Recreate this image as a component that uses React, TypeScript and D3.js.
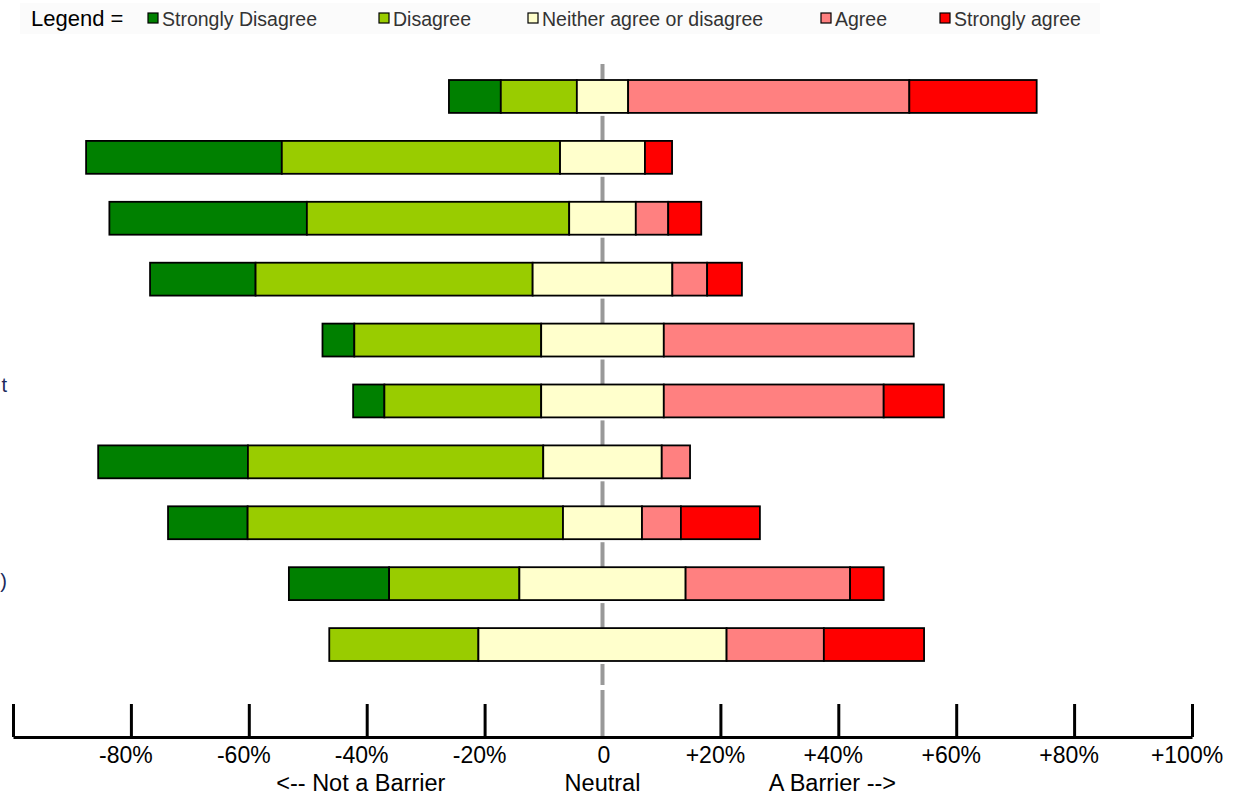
import { useEffect, useRef } from 'react'
import * as d3 from 'd3'

// Percent of respondents per answer, one entry per statement (top to bottom)
const rows = ['r1', 'r2', 'r3', 'r4', 'r5', 'r6', 'r7', 'r8', 'r9', 'r10']
const rowLabels = ['', '', '', '', '', 't', '', '', ')', '']
const stronglyDisagree = [8.8, 33.2, 33.5, 17.9, 5.4, 5.3, 25.4, 13.5, 17.0, 0]
const disagree = [12.9, 47.2, 44.5, 47.0, 31.7, 26.6, 50.1, 53.5, 22.1, 25.3]
const neutral = [8.7, 14.4, 11.3, 23.7, 20.8, 20.8, 20.1, 13.4, 28.2, 42.1]
const agree = [47.7, 0, 5.5, 5.9, 42.4, 37.3, 4.8, 6.6, 27.9, 16.5]
const stronglyAgree = [21.6, 4.6, 5.6, 5.9, 0, 10.2, 0, 13.4, 5.7, 17.0]

const legendLabels = [
  'Strongly Disagree',
  'Disagree',
  'Neither agree or disagree',
  'Agree',
  'Strongly agree',
]
const legendX = [148, 379, 528, 821, 940]
const colors = ['#008000', '#99CC00', '#FFFFCC', '#FF8080', '#FF0000']
const tickValues = [-100, -80, -60, -40, -20, 0, 20, 40, 60, 80, 100]

const W = 1238
const H = 797
const FONT = '"Liberation Sans", Arial, sans-serif'

export default function App() {
  const svgRef = useRef<SVGSVGElement>(null)

  useEffect(() => {
    if (!svgRef.current) return
    const svg = d3.select(svgRef.current)
    svg.selectAll('*').remove()

    const x = d3.scaleLinear().domain([-100, 100]).range([13, 1192])
    const y = d3
      .scaleBand<string>()
      .domain(rows)
      .range([66, 675])
      .paddingInner(0.46)
      .paddingOuter(0.23)

    // Legend
    const legend = svg.append('g').attr('font-family', FONT)
    legend
      .append('rect')
      .attr('x', 20)
      .attr('y', 3)
      .attr('width', 1080)
      .attr('height', 31)
      .attr('fill', '#FBFBFB')
    legend
      .append('text')
      .attr('x', 31)
      .attr('y', 26)
      .attr('font-size', 22)
      .attr('fill', '#000')
      .text('Legend =')
    legendLabels.forEach((label, i) => {
      legend
        .append('rect')
        .attr('x', legendX[i])
        .attr('y', 13)
        .attr('width', 10)
        .attr('height', 10)
        .attr('fill', colors[i])
        .attr('stroke', '#000')
        .attr('stroke-width', 1.2)
      legend
        .append('text')
        .attr('x', legendX[i] + 14)
        .attr('y', 26)
        .attr('font-size', 19.5)
        .attr('fill', '#333')
        .text(label)
    })

    // Neutral line, broken just below each bar
    const zx = x(0)
    const gap = y.step() - y.bandwidth()
    const neutralLine = (y1: number, y2: number) =>
      svg
        .append('line')
        .attr('x1', zx)
        .attr('x2', zx)
        .attr('y1', y1)
        .attr('y2', y2)
        .attr('stroke', '#999')
        .attr('stroke-width', 4)
    rows.forEach((r, i) => {
      const top = y(r) || 0
      const from = i === 0 ? top - 16 : top - gap + 3
      neutralLine(from, top + y.bandwidth() / 2)
    })
    const lastBottom = (y(rows[rows.length - 1]) || 0) + y.bandwidth()
    neutralLine(lastBottom + 3, 685)
    neutralLine(690, 737)

    // Bars
    const series = [stronglyDisagree, disagree, neutral, agree, stronglyAgree]
    const barG = svg.append('g')
    rows.forEach((r, i) => {
      let start = -(stronglyDisagree[i] + disagree[i] + neutral[i] / 2)
      series.forEach((s, k) => {
        const v = s[i]
        if (v > 0) {
          barG
            .append('rect')
            .attr('x', x(start))
            .attr('y', y(r) || 0)
            .attr('width', x(start + v) - x(start))
            .attr('height', y.bandwidth())
            .attr('fill', colors[k])
            .attr('stroke', '#000')
            .attr('stroke-width', 1.8)
        }
        start += v
      })
      if (rowLabels[i]) {
        svg
          .append('text')
          .attr('x', 7)
          .attr('y', (y(r) || 0) + y.bandwidth() / 2 + (rowLabels[i] === 't' ? -9 : 4))
          .attr('text-anchor', 'end')
          .attr('font-family', FONT)
          .attr('font-size', 20)
          .attr('fill', '#1B2A5C')
          .text(rowLabels[i])
      }
    })

    // Axis
    const axis = svg
      .append('g')
      .attr('transform', 'translate(0,737)')
      .call(
        d3
          .axisBottom(x)
          .tickValues(tickValues)
          .tickSizeInner(-33)
          .tickSizeOuter(0)
          .tickPadding(10)
          .tickFormat((d) => {
            const v = +d
            if (v === -100) return ''
            if (v === 0) return '0'
            return v > 0 ? `+${v}%` : `${v}%`
          })
      )
    axis.select('.domain').attr('stroke', '#000').attr('stroke-width', 3)
    axis
      .selectAll('.tick line')
      .attr('stroke', (d) => (+d === 0 ? 'none' : '#000'))
      .attr('stroke-width', 3)
    axis
      .selectAll('.tick text')
      .attr('fill', '#000')
      .attr('font-family', FONT)
      .attr('font-size', 23)
      .attr('dx', (d) => (+d === 0 ? 1 : -5.5))

    const sub = [
      { v: -41, t: '<-- Not a Barrier' },
      { v: 0, t: 'Neutral' },
      { v: 39, t: 'A Barrier -->' },
    ]
    sub.forEach((s) => {
      svg
        .append('text')
        .attr('x', x(s.v))
        .attr('y', 791)
        .attr('text-anchor', 'middle')
        .attr('font-family', FONT)
        .attr('font-size', 23.5)
        .attr('fill', '#000')
        .text(s.t)
    })
  }, [])

  return (
    <svg
      ref={svgRef}
      width={W}
      height={H}
      style={{ position: 'absolute', left: 0, top: 0, background: '#fff' }}
    />
  )
}
